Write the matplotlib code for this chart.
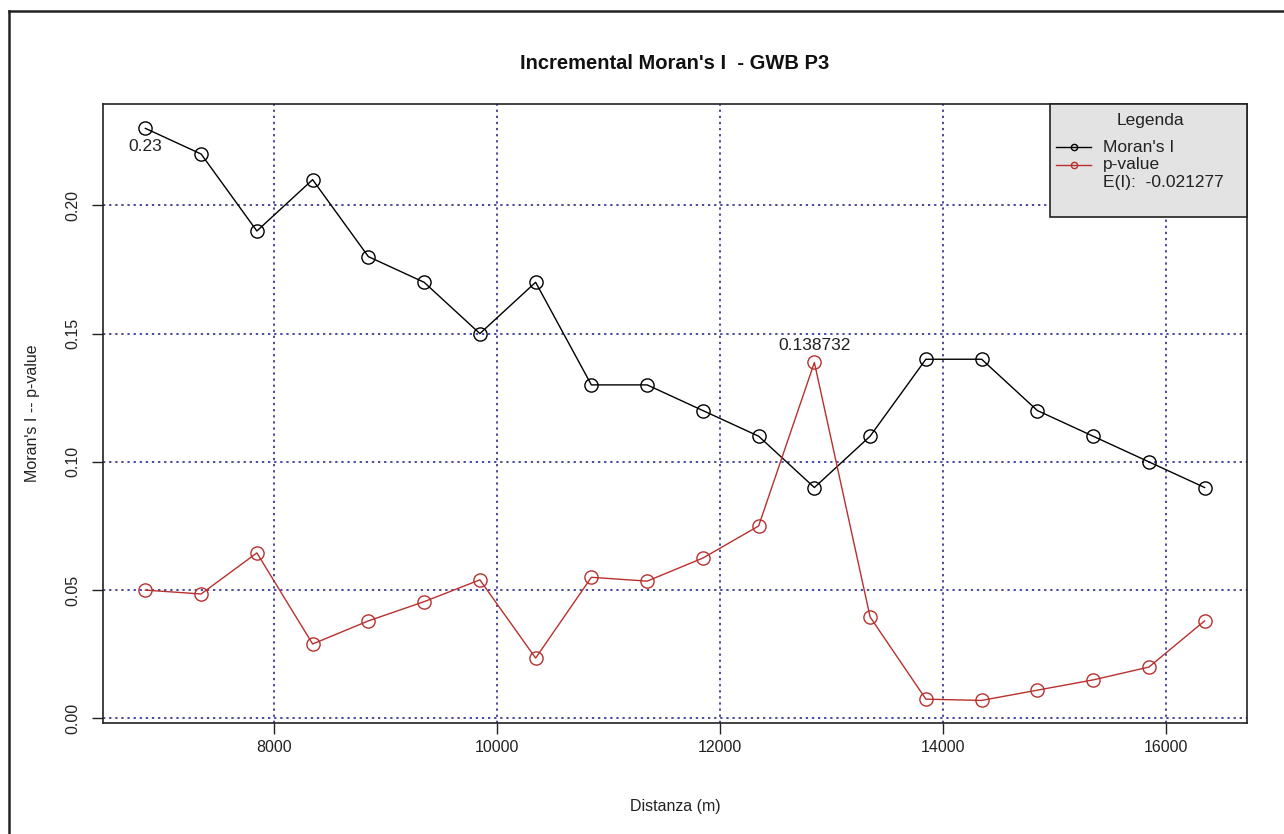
import numpy as np
import matplotlib
matplotlib.use('Agg')
import matplotlib.pyplot as plt
from matplotlib.lines import Line2D
from matplotlib.patches import Rectangle

plt.rcParams['font.family'] = ['Liberation Sans', 'DejaVu Sans']

# ---------------------------------------------------------------------------
# Data
# ---------------------------------------------------------------------------
distanza = [6850, 7350, 7850, 8350, 8850, 9350, 9850, 10350, 10850, 11350,
            11850, 12350, 12850, 13350, 13850, 14350, 14850, 15350, 15850, 16350]
moran_i = [0.23, 0.22, 0.19, 0.21, 0.18, 0.17, 0.15, 0.17, 0.13, 0.13,
           0.12, 0.11, 0.09, 0.11, 0.14, 0.14, 0.12, 0.11, 0.10, 0.09]
p_value = [0.050, 0.0485, 0.0645, 0.029, 0.038, 0.0455, 0.054, 0.0235, 0.055, 0.0535,
           0.0625, 0.075, 0.138732, 0.0395, 0.0075, 0.007, 0.011, 0.015, 0.020, 0.038]
expected_i = -0.021277

x_ticks = [8000, 10000, 12000, 14000, 16000]
y_ticks = [0.00, 0.05, 0.10, 0.15, 0.20]

RED = '#b8302e'
GRID = '#1a1a80'
INK = '#222222'

W, H = 1284, 834
AX_L, AX_R, AX_T, AX_B = 103, 1247, 104, 723   # plot frame in pixels

fig = plt.figure(figsize=(W / 100, H / 100), dpi=100)
ax = fig.add_axes([AX_L / W, 1 - AX_B / H, (AX_R - AX_L) / W, (AX_B - AX_T) / H])


def axfrac(px, py):
    """pixel position (from top-left) -> axes fraction"""
    return (px - AX_L) / (AX_R - AX_L), (AX_B - py) / (AX_B - AX_T)


# grid first (behind)
for xv in x_ticks:
    ax.axvline(xv, color=GRID, ls=(0, (1.5, 2.5)), lw=1.1, zorder=0)
for yv in y_ticks:
    ax.axhline(yv, color=GRID, ls=(0, (1.5, 2.5)), lw=1.1, zorder=0)

ax.plot(distanza, moran_i, '-o', color='black', lw=1, ms=9.5, mfc='none', mew=1)
ax.plot(distanza, p_value, '-o', color=RED, lw=1, ms=9.5, mfc='none', mew=1)

# annotations: max Moran's I and max p-value
i_max = int(np.argmax(moran_i))
ax.annotate(f'{moran_i[i_max]:g}', (distanza[i_max], moran_i[i_max]),
            xytext=(0, -8), textcoords='offset points', ha='center', va='top',
            fontsize=12.5, color=INK)
p_max = int(np.argmax(p_value))
ax.annotate(f'{p_value[p_max]:g}', (distanza[p_max], p_value[p_max]),
            xytext=(0, 7), textcoords='offset points', ha='center', va='bottom',
            fontsize=12.5, color=INK)

ax.set_xlim(6470, 16730)
ax.set_ylim(-0.0018, 0.2395)
ax.set_xticks(x_ticks)
ax.set_yticks(y_ticks)
ax.set_yticklabels([f'{v:.2f}' for v in y_ticks], rotation=90, va='center')
ax.tick_params(axis='both', labelsize=11.5, length=8, width=1, direction='out',
               colors=INK)
ax.tick_params(axis='x', pad=4)
ax.tick_params(axis='y', pad=8.5)
for sp in ax.spines.values():
    sp.set_linewidth(1.2)
    sp.set_color(INK)

ax.set_xlabel('Distanza (m)', fontsize=11.5, labelpad=32, color=INK)
ax.set_ylabel("Moran's I -- p-value", fontsize=11.5, labelpad=18, color=INK)
ax.set_title("Incremental Moran's I  - GWB P3", fontsize=14.5, fontweight='bold',
             pad=25.5, color='#111111')

# legend box (R-style, drawn in the top-right corner of the plot)
x0, y0 = axfrac(1050, 217)
x1, y1 = axfrac(1247, 104)
ax.add_patch(Rectangle((x0, y0), x1 - x0, y1 - y0, transform=ax.transAxes,
                       facecolor='#e3e3e3', edgecolor=INK, lw=1.2, zorder=5,
                       clip_on=False))
tx, ty = axfrac(1150, 121)
ax.text(tx, ty, 'Legenda', transform=ax.transAxes, ha='center', va='center',
        fontsize=12.5, color=INK, zorder=6)

entries = [("Moran's I", 'black'), ('p-value', RED),
           (f'E(I):  {expected_i:.6f}', None)]
for k, (lab, col) in enumerate(entries):
    yy = 147 + 17.5 * k
    if col is not None:
        hx0, hy = axfrac(1056, yy)
        hx1, _ = axfrac(1091, yy)
        ax.add_line(Line2D([hx0, hx1], [hy, hy], color=col, lw=1,
                           transform=ax.transAxes, zorder=6, clip_on=False))
        ax.add_line(Line2D([(hx0 + hx1) / 2], [hy], color=col, marker='o', ms=4.5,
                           mfc='none', mew=1, transform=ax.transAxes, zorder=6,
                           clip_on=False))
    lx, ly = axfrac(1103, yy)
    ax.text(lx, ly, lab, transform=ax.transAxes, ha='left', va='center',
            fontsize=12.5, color=INK, zorder=6)

# outer device border (left and top visible)
fig.add_artist(Line2D([9 / W, 9 / W], [0, 1 - 11 / H], color=INK, lw=1.8,
                      transform=fig.transFigure))
fig.add_artist(Line2D([9 / W, 1], [1 - 11 / H, 1 - 11 / H], color=INK, lw=1.8,
                      transform=fig.transFigure))

fig.savefig('out.png', dpi=100)
